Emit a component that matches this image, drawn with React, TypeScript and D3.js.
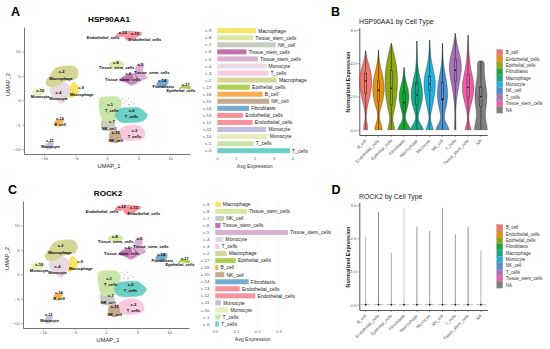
import React, { useRef, useEffect } from 'react';
import * as d3 from 'd3';

const FONT = 'Liberation Sans, Arial, sans-serif';

// clusters, shared by the umap and bar panels
const clusterIds = ['c-9', 'c-8', 'c-7', 'c-6', 'c-5', 'c-4', 'c-3', 'c-2', 'c-17', 'c-16', 'c-15', 'c-14', 'c-13', 'c-12', 'c-11', 'c-10', 'c-1', 'c-0'];
const clusterTypes = ['Macrophage', 'Tissue_stem_cells', 'NK_cell', 'Tissue_stem_cells', 'Tissue_stem_cells', 'Monocyte', 'T_cells', 'Macrophage', 'Epithelial_cells', 'B_cell', 'NK_cell', 'Fibroblasts', 'Endothelial_cells', 'Endothelial_cells', 'Monocyte', 'Monocyte', 'T_cells', 'T_cells'];
const clusterColors = ['#f8e463', '#d9e8a2', '#c6ccc0', '#bf70ad', '#d9b0d3', '#e9d9e2', '#f9cade', '#d4d698', '#abd053', '#f9ad50', '#c5aa8e', '#77aad1', '#f59299', '#f7939c', '#c2bfde', '#e9edbc', '#cae5aa', '#6dd0c4'];
const hspAvg = [2.05, 1.9, 3.1, 1.55, 2.15, 2.6, 2.7, 3.15, 1.73, 2.4, 2.75, 1.68, 1.36, 1.87, 2.6, 2.67, 1.92, 3.85];
const rockAvg = [0.025, 0.149, 0.041, 0.024, 0.342, 0.038, 0.019, 0.053, 0.096, 0.014, 0.042, 0.157, 0.115, 0.188, 0.027, 0.061, 0.024, 0.017];

// cluster outlines in umap units
const umapOutlines: Record<string, number[][]> = {
  'c-2': [[-9.7, 3.7], [-9, 5.1], [-8.25, 6.5], [-6.7, 7], [-5.1, 6.9], [-4.55, 5.8], [-4.9, 4.4], [-6.1, 4.1], [-6.9, 3.7], [-8.25, 2.85], [-9.3, 2.85]],
  'c-4': [[-9.05, 2.4], [-8.25, 2.85], [-6.9, 3.6], [-6.1, 3.05], [-6.1, 1], [-7.2, -0.7], [-8, 0], [-8.8, 1]],
  'c-9': [[-5.9, 2.6], [-5.3, 3.75], [-4.55, 2.6], [-4.7, 1.35], [-5.9, 0.55], [-6.15, 1]],
  'c-10': [[-11.8, 1.9], [-11.2, 2.4], [-10.1, 2.4], [-9.85, 1.7], [-10.6, 1], [-11.7, 1.2]],
  'c-16': [[-8.25, -4.4], [-7.55, -3.95], [-6.9, -4.1], [-7.2, -4.9], [-7.55, -5.3], [-8.1, -4.9]],
  'c-11': [[-9.7, -9.2], [-9.15, -8.5], [-8.6, -8.5], [-8.6, -9.5], [-9.05, -10], [-9.6, -9.9]],
  'c-1': [[-1.1, 0.35], [0, 0.7], [1.5, 0.7], [2.2, 0], [2.2, -1.35], [1.6, -2.5], [1.3, -4.2], [-0.5, -4.3], [-1.1, -2.7]],
  'c-0': [[2.05, -1.7], [3.4, -1.5], [5, -1.5], [6, -2.4], [6.4, -3], [5.75, -4.2], [3.9, -4.6], [2.05, -4.4], [1.3, -3]],
  'c-7': [[-0.85, -4.2], [1, -4.1], [1.3, -5.1], [0.75, -6.1], [-0.3, -6.25], [-0.85, -5.45]],
  'c-15': [[0.5, -6.45], [1.5, -6.25], [2.2, -7.15], [2.05, -8.3], [1.3, -8.7], [0.5, -8.15]],
  'c-3': [[2.2, -5.8], [3.4, -5.1], [5.25, -5.3], [6, -6.45], [5.9, -7.6], [4.7, -8.15], [2.85, -8.15], [1.5, -7.15]],
  'c-8': [[0.35, 7.5], [1.25, 8], [2.5, 7.8], [2.7, 7.15], [1.5, 6.65], [0.6, 6.8]],
  'c-5': [[4.7, 7.1], [5.5, 7.6], [5.8, 6.8], [5.5, 5.7], [6.3, 4.6], [5.4, 4], [3.9, 3], [3.4, 3.5], [4.3, 4.6]],
  'c-6': [[2.2, 4.2], [3.2, 4.9], [4, 5.2], [4.2, 4.3], [3.7, 3.5], [2.9, 3.8]],
  'c-13': [[1.55, 13.6], [2.85, 14.1], [3.9, 14], [3.9, 13.2], [2.85, 13.1], [1.55, 13.1]],
  'c-12': [[3.2, 13.8], [4.5, 14], [5.5, 13.6], [4.5, 12.9], [3.3, 12.3], [2.9, 12.6]],
  'c-14': [[7.9, 3.4], [8.7, 4.2], [9.7, 4.2], [9.45, 3.05], [8.4, 2.7]],
  'c-17': [[11.5, 2.4], [12.1, 3.05], [13.2, 2.7], [13.2, 2.3], [12.1, 2.5]],
};

// thin strands of cells that stick out of some clusters
const umapStrands: [string, number[][]][] = [
  ['c-5', [[5.1, 7.4], [5.6, 6], [6.2, 4.55], [4.9, 4.15]]],
  ['c-6', [[1.95, 4.15], [3, 5], [4.1, 5.4], [4.9, 4.2], [3.8, 3.45], [2.75, 3.9], [1.95, 4.15]]],
  ['c-13', [[1.55, 13.5], [3, 13.9], [5.5, 13.7], [3.3, 12.4], [2.8, 13]]],
  ['c-17', [[11.5, 2.4], [12.2, 3], [13.3, 2.7]]],
];

// the small loose groups of cells around the big clusters
const strayCells: [string, number, number][] = [
  ['c-9', -1.4, 0.4], ['c-9', -1.2, 0.1], ['c-9', -1.0, -0.2],
  ['c-5', 2.4, 0.3], ['c-5', 3.0, -0.1], ['c-5', 3.4, 0.4], ['c-5', 3.9, -0.3], ['c-5', 4.3, -0.6], ['c-5', 2.8, -0.7], ['c-6', 3.5, -0.9],
];

const umapLabels: [string, number, number][] = [
  ['c-12', 2.5, 13.6], ['c-13', 4.45, 13.4], ['Endothelial_cells', -0.6, 12.6], ['Endothelial_cells', 6, 12.1],
  ['c-8', 1.4, 7.5], ['Tissue_stem_cells', 1.55, 6.3], ['c-5', 5.35, 7], ['Tissue_stem_cells', 7.1, 5.45], ['c-6', 3.4, 5.2], ['Tissue_stem_cells', 2.5, 4],
  ['c-2', -7.2, 5.5], ['Macrophage', -7.3, 4.2], ['c-9', -4.1, 2.3], ['Macrophage', -4, 0.95],
  ['c-10', -10.6, 1.75], ['Monocyte', -10.6, 0.5], ['c-4', -7.7, 1.35], ['Monocyte', -7.7, 0],
  ['c-16', -7.45, -3.95], ['B_cell', -7.45, -5.25], ['c-11', -9.05, -8.5], ['Monocyte', -8.95, -9.8],
  ['c-14', 8.75, 3.8], ['Fibroblasts', 8.95, 2.6], ['c-17', 12.5, 2.9], ['Epithelial_cells', 11.75, 1.65],
  ['c-1', 0.5, -1.1], ['T_cells', 0.75, -2.45], ['c-0', 3.9, -2.4], ['T_cells', 3.9, -3.65],
  ['c-7', 0.75, -4.6], ['NK_cell', 0.35, -6.05], ['c-15', 1.4, -7], ['NK_cell', 1.4, -8.45], ['c-3', 4.35, -6.4], ['T_cells', 4.35, -7.75],
];

// violins
const cellTypes = ['B_cell', 'Endothelial_cells', 'Epithelial_cells', 'Fibroblasts', 'Macrophage', 'Monocyte', 'NK_cell', 'T_cells', 'Tissue_stem_cells', 'NA'];
const cellColors = ['#f0766d', '#e5920f', '#8fa716', '#1aa83a', '#12ab86', '#1fb3de', '#4e8fcf', '#a973b9', '#ea5fa6', '#7f7f7f'];
const hspProfiles = [
  [[0, 0.3], [0.3, 0.3], [0.5, 0.12], [0.9, 0.06], [1.5, 0.3], [2.2, 0.8], [3, 1], [3.7, 0.7], [4.2, 0.2], [4.74, 0.02]],
  [[0, 0.55], [0.25, 0.5], [0.6, 0.15], [1, 0.1], [1.6, 0.6], [2.4, 1], [3.2, 0.7], [4, 0.15], [4.8, 0.02]],
  [[0, 0.55], [0.3, 0.4], [0.7, 0.15], [1.2, 0.5], [2, 0.85], [3, 1], [3.8, 0.85], [4.6, 0.4], [5.2, 0.02]],
  [[0, 1], [0.2, 0.8], [0.5, 0.3], [0.8, 0.12], [1.2, 0.45], [2, 0.9], [2.6, 0.5], [3.2, 0.12], [3.75, 0.02]],
  [[0, 1], [0.2, 0.8], [0.5, 0.3], [0.8, 0.12], [1.3, 0.55], [2, 1], [2.8, 0.7], [3.5, 0.2], [4.3, 0.05], [5.34, 0.01]],
  [[0, 0.55], [0.2, 0.45], [0.5, 0.15], [0.8, 0.06], [1.5, 0.5], [2.7, 1], [3.4, 0.7], [4.2, 0.15], [5.4, 0.01]],
  [[0, 1], [0.2, 0.85], [0.5, 0.4], [0.8, 0.2], [1.3, 0.55], [2, 0.85], [2.8, 0.7], [3.5, 0.3], [4.3, 0.06], [5.2, 0.01]],
  [[0, 0.12], [0.5, 0.08], [1, 0.06], [1.8, 0.15], [2.8, 0.6], [3.6, 1], [4.3, 0.85], [5, 0.3], [5.8, 0.01]],
  [[0, 0.45], [0.2, 0.35], [0.5, 0.1], [1, 0.08], [1.7, 0.6], [2.5, 1], [3.2, 0.7], [4, 0.2], [5.7, 0.01]],
  [[0, 1], [0.3, 0.9], [0.8, 0.6], [1.4, 0.8], [2, 1], [2.7, 0.75], [3.5, 0.45], [4, 0.6], [4.14, 0.3]],
];
const hspQ1 = [2.2, 1.69, 1.49, 1.08, 1.49, 2.35, 1.79, 2.89, 1.93, 1.39];
const hspMedian = [2.93, 2.37, 2.49, 1.63, 2.09, 2.75, 1.83, 3.57, 2.55, 2.0];
const hspQ3 = [3.4, 2.93, 3.55, 2.27, 2.8, 3.2, 2.83, 4.24, 3.3, 2.55];
const rockMax = [2.05, 2.8, 1.57, 2.92, 2.35, 2.22, 2.92, 2.12, 2.35, 1.64];
const rockGray = ['#b5b5b5', '#8a8a8a', '#a8a8a8', '#c8c8c8', '#999999', '#9c9c9c', '#a0a0a0', '#9c9c9c', '#8f8f8f', '#b0b0b0'];

type G = d3.Selection<SVGGElement, unknown, null, undefined>;

function addText(g: G, str: string, x: number, y: number, size: number, opts: any = {}) {
  const t = g.append('text').attr('x', x).attr('y', y).text(str)
    .attr('font-size', size).attr('font-family', FONT)
    .attr('font-weight', opts.bold ? 'bold' : 'normal')
    .attr('text-anchor', opts.anchor || 'start')
    .attr('fill', opts.fill || '#000');
  if (opts.rotate !== undefined) t.attr('transform', `rotate(${opts.rotate} ${x} ${y})`);
  return t;
}

function styleAxis(ax: G, lineColor: string, lineWidth: number, textSize: number) {
  ax.selectAll('.domain').attr('stroke', lineColor).attr('stroke-width', lineWidth);
  ax.selectAll('.tick line').attr('stroke', lineColor).attr('stroke-width', 0.5);
  ax.selectAll('.tick text').attr('font-size', textSize).attr('font-family', FONT).attr('fill', '#555');
}

function drawUmap(g: G, title: string, left: number, right: number, top: number, bottom: number) {
  const x = d3.scaleLinear().domain([-13.17, 13.17]).range([left, right]);
  const y = d3.scaleLinear().domain([-11, 15]).range([bottom, top]);
  const outline = d3.line<number[]>().x((d) => x(d[0])).y((d) => y(d[1])).curve(d3.curveCatmullRomClosed.alpha(0.5));
  const strand = d3.line<number[]>().x((d) => x(d[0])).y((d) => y(d[1])).curve(d3.curveCatmullRom.alpha(0.5));
  const colorOf = (id: string) => clusterColors[clusterIds.indexOf(id)];

  const cells = g.append('g').attr('filter', 'url(#soft)');
  clusterIds.forEach((id) => {
    cells.append('path').attr('d', outline(umapOutlines[id])).attr('fill', colorOf(id))
      .attr('stroke', colorOf(id)).attr('stroke-width', 0.5);
  });
  umapStrands.forEach(([id, pts]) => {
    cells.append('path').attr('d', strand(pts)).attr('fill', 'none')
      .attr('stroke', colorOf(id)).attr('stroke-width', 1.3);
  });
  strayCells.forEach(([id, u, v]) => {
    cells.append('circle').attr('cx', x(u)).attr('cy', y(v)).attr('r', 0.7).attr('fill', colorOf(id));
  });

  const fmt = (d: any) => String(d).replace('-', '\u2212');
  const xAxis = g.append('g').attr('transform', `translate(0,${bottom})`)
    .call(d3.axisBottom(x).tickValues([-10, -5, 0, 5, 10]).tickSize(2).tickPadding(1.5).tickSizeOuter(0).tickFormat(fmt) as any);
  const yAxis = g.append('g').attr('transform', `translate(${left},0)`)
    .call(d3.axisLeft(y).tickValues([-10, -5, 0, 5, 10]).tickSize(2).tickPadding(1.5).tickSizeOuter(0).tickFormat(fmt) as any);
  styleAxis(xAxis as any, '#666', 0.9, 4.2);
  styleAxis(yAxis as any, '#666', 0.9, 4.2);

  umapLabels.forEach(([label, u, v]) => {
    addText(g, label, x(u), y(v), 4, { anchor: 'middle', bold: true });
  });

  addText(g, title, (left + right) / 2 + 2, top - 5, 8.1, { anchor: 'middle', bold: true });
  addText(g, 'UMAP_1', (left + right) / 2 + 2, bottom + 13.6, 5.7, { anchor: 'middle', fill: '#222' });
  addText(g, 'UMAP_2', left - 14.5, (top + bottom) / 2 - 6, 5.7, { anchor: 'middle', fill: '#222', rotate: -90 });
}

function drawBars(g: G, values: number[], ticks: number[], tickFmt: (d: number) => string, x: d3.ScaleLinear<number, number>, y: d3.ScalePoint<string>, axisY: number) {
  const barH = 5;
  g.selectAll('.grid').data(ticks).join('line')
    .attr('x1', (d) => x(d)).attr('x2', (d) => x(d))
    .attr('y1', (y('c-9') as number) - 4).attr('y2', (y('c-0') as number) + 4)
    .attr('stroke', '#f1f1f1').attr('stroke-width', 0.4);

  g.selectAll('.bar').data(values).join('rect')
    .attr('x', x(0)).attr('y', (d, i) => (y(clusterIds[i]) as number) - barH / 2)
    .attr('width', (d) => x(d) - x(0)).attr('height', barH)
    .attr('fill', (d, i) => clusterColors[i]);

  values.forEach((v, i) => {
    const yy = (y(clusterIds[i]) as number) + 1.8;
    addText(g, clusterTypes[i], x(v) + 2.2, yy, 5, { fill: '#222' });
    addText(g, clusterIds[i], x(0) - 6, yy - 0.2, 4.3, { anchor: 'end', fill: '#444' });
  });

  ticks.forEach((t) => addText(g, tickFmt(t), x(t), axisY, 4.2, { anchor: 'middle', fill: '#666' }));
  addText(g, 'Avg Expression', x(0) + 37.5, axisY + 8, 5.2, { anchor: 'middle', fill: '#333' });
}

function drawViolinFrame(g: G, y: d3.ScaleLinear<number, number>, x: d3.ScaleBand<string>, ticks: number[], bottom: number, top: number, title: string) {
  const xAxis = g.append('g').attr('transform', `translate(0,${bottom})`)
    .call(d3.axisBottom(x).tickSize(2).tickFormat(() => '').tickSizeOuter(0) as any);
  const yAxis = g.append('g').attr('transform', `translate(${x.range()[0]},0)`)
    .call(d3.axisLeft(y).tickValues(ticks).tickSize(2).tickPadding(1).tickSizeOuter(0) as any);
  styleAxis(xAxis as any, '#444', 0.9, 4.2);
  styleAxis(yAxis as any, '#444', 0.9, 4.2);

  cellTypes.forEach((c) => {
    const cx = (x(c) as number) + x.bandwidth() / 2;
    addText(g, c, cx + 1, bottom + 6, 4.2, { anchor: 'end', fill: '#444', rotate: -45 });
  });

  addText(g, title, x.range()[0] - 0.3, top - 6.5, 6.9, { fill: '#222' });
  addText(g, 'Normalized Expression', x.range()[0] - 9.3, (top + bottom) / 2 - 0.5, 5.5, { anchor: 'middle', bold: true, fill: '#222', rotate: -90 });

  // legend
  const legY = d3.scalePoint<string>().domain(cellTypes).range([top + 22.7, top + 80]);
  cellTypes.forEach((c, i) => {
    const yy = legY(c) as number;
    g.append('rect').attr('x', 496.7).attr('y', yy - 3.1).attr('width', 6).attr('height', 6.2)
      .attr('fill', cellColors[i]).attr('stroke', '#888').attr('stroke-width', 0.3);
    addText(g, c, 505.7, yy + 1.5, 4.5, { fill: '#333' });
  });
}

function drawHspViolins(g: G) {
  const x = d3.scaleBand<string>().domain(cellTypes).range([359.3, 487.3]);
  const y = d3.scaleLinear().domain([-0.32, 6.15]).range([135, 27.5]);
  // curveBasis pulls the peaks in, so the width range is a bit wider than the drawn shape
  const w = d3.scaleLinear().domain([0, 1]).range([0, 6.5]);
  drawViolinFrame(g, y, x, [0, 2, 4, 6], 135, 30, 'HSP90AA1 by Cell Type');

  cellTypes.forEach((c, i) => {
    const cx = (x(c) as number) + x.bandwidth() / 2;
    const area = d3.area<number[]>()
      .y((d) => y(d[0])).x0((d) => cx - w(d[1])).x1((d) => cx + w(d[1]))
      .curve(d3.curveBasis);
    const prof = hspProfiles[i];
    g.append('path').attr('d', area(prof)).attr('fill', cellColors[i]).attr('stroke', '#222').attr('stroke-width', 0.35);
    g.append('line').attr('x1', cx).attr('x2', cx).attr('y1', y(0)).attr('y2', y(prof[prof.length - 1][0]))
      .attr('stroke', '#111').attr('stroke-width', 0.5);
    g.append('rect').attr('x', cx - 1.1).attr('width', 2.2).attr('y', y(hspQ3[i])).attr('height', y(hspQ1[i]) - y(hspQ3[i]))
      .attr('fill', cellColors[i]).attr('stroke', '#111').attr('stroke-width', 0.4);
    g.append('circle').attr('cx', cx).attr('cy', y(hspMedian[i])).attr('r', 0.8).attr('fill', '#000');
  });
}

function drawRockViolins(g: G) {
  const x = d3.scaleBand<string>().domain(cellTypes).range([359.3, 487.3]);
  const y = d3.scaleLinear().domain([-0.16, 3.08]).range([310, 202.5]);
  drawViolinFrame(g, y, x, [0, 1, 2, 3], 310, 205, 'ROCK2 by Cell Type');

  cellTypes.forEach((c, i) => {
    const cx = (x(c) as number) + x.bandwidth() / 2;
    g.append('line').attr('x1', cx).attr('x2', cx).attr('y1', y(0)).attr('y2', y(rockMax[i]))
      .attr('stroke', rockGray[i]).attr('stroke-width', 1);
    g.append('line').attr('x1', cx - 5).attr('x2', cx + 5).attr('y1', y(0)).attr('y2', y(0))
      .attr('stroke', '#aaa').attr('stroke-width', 0.8);
    g.append('circle').attr('cx', cx).attr('cy', y(0)).attr('r', 0.9).attr('fill', '#111');
  });
}

function App() {
  const svgRef = useRef<SVGSVGElement>(null);

  useEffect(() => {
    const svg = d3.select(svgRef.current as SVGSVGElement);
    svg.selectAll('*').remove();
    svg.append('defs').append('filter').attr('id', 'soft')
      .append('feGaussianBlur').attr('stdDeviation', 0.4);
    const root = svg.append('g') as unknown as G;

    // panel letters
    addText(root, 'A', 11, 15.5, 12.5, { bold: true });
    addText(root, 'B', 331, 15.5, 12.5, { bold: true });
    addText(root, 'C', 8, 194, 12.5, { bold: true });
    addText(root, 'D', 331.5, 194, 12.5, { bold: true });

    // A / C
    drawUmap(root.append('g') as any, 'HSP90AA1', 24, 190, 27, 154);
    drawUmap(root.append('g') as any, 'ROCK2', 23, 189, 201, 328);

    // bars
    const yTop = d3.scalePoint<string>().domain(clusterIds).range([30.7, 150.7]);
    const xTop = d3.scaleLinear().domain([0, 4]).range([217.3, 292.7]);
    drawBars(root.append('g') as any, hspAvg, [0, 1, 2, 3, 4], (d) => String(d), xTop, yTop, 160);

    const yBottom = d3.scalePoint<string>().domain(clusterIds).range([204.3, 324]);
    const xBottom = d3.scaleLinear().domain([0, 0.3]).range([215.3, 279]);
    drawBars(root.append('g') as any, rockAvg, [0, 0.1, 0.2, 0.3], (d) => d.toFixed(1), xBottom, yBottom, 333);

    // B / D
    drawHspViolins(root.append('g') as any);
    drawRockViolins(root.append('g') as any);
  }, []);

  return (
    <svg ref={svgRef} width={550} height={349} style={{ position: 'absolute', left: 0, top: 0, background: '#fff' }} />
  );
}

export default App;
